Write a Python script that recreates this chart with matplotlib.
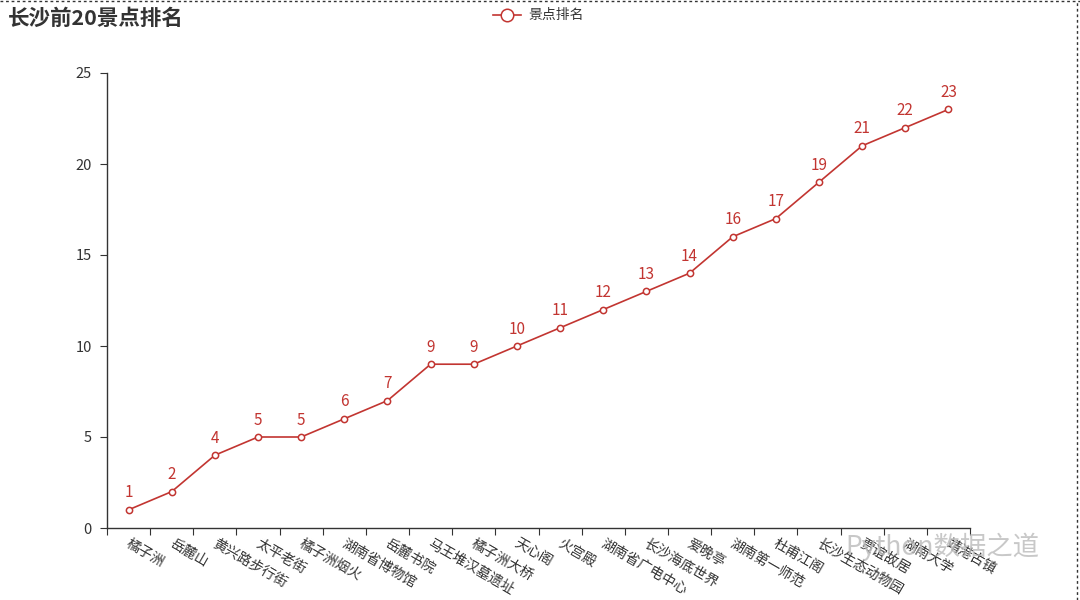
import matplotlib
matplotlib.use("Agg")
import matplotlib.pyplot as plt
from matplotlib.lines import Line2D

plt.rcParams['font.family'] = ['Noto Sans CJK SC', 'DejaVu Sans']

categories = ["橘子洲", "岳麓山", "黄兴路步行街", "太平老街", "橘子洲烟火", "湖南省博物馆",
              "岳麓书院", "马王堆汉墓遗址", "橘子洲大桥", "天心阁", "火宫殿", "湖南省广电中心",
              "长沙海底世界", "爱晚亭", "湖南第一师范", "杜甫江阁", "长沙生态动物园", "贾谊故居",
              "湖南大学", "靖港古镇"]
values = [1, 2, 4, 5, 5, 6, 7, 9, 9, 10, 11, 12, 13, 14, 16, 17, 19, 21, 22, 23]
y_ticks = [0, 5, 10, 15, 20, 25]

red = "#c23531"
axc = "#333333"

fig = plt.figure(figsize=(10.8, 6), dpi=100)
ax = fig.add_axes([107/1080, 1-528/600, (970-107)/1080, (528-73)/600])

n = len(categories)
x = list(range(n))
ax.plot(x, values, color=red, lw=1.2, marker='o', markersize=4.5,
        markerfacecolor='white', markeredgecolor=red, markeredgewidth=1.1, zorder=3, clip_on=False)
for xi, v in zip(x, values):
    ax.annotate(str(v), (xi, v), xytext=(0, 6), textcoords='offset points',
                ha='center', va='bottom', color=red, fontsize=11)

ax.set_xlim(-0.5, n - 0.5)
ax.set_ylim(0, 25)
ax.set_yticks(y_ticks)
ax.set_yticklabels([str(t) for t in y_ticks], color=axc, fontsize=10.5)
ax.tick_params(axis='y', length=5, color=axc, pad=6)

ax.set_xticks([i - 0.5 for i in range(n + 1)])
ax.set_xticklabels([])
ax.tick_params(axis='x', length=5, color=axc)
for xi, lab in zip(x, categories):
    ax.text(xi + 0.05, -0.45, lab, rotation=-30, rotation_mode='anchor', ha='left', va='top',
            fontsize=10, color=axc, transform=ax.transData, clip_on=False)

for s in ['top', 'right']:
    ax.spines[s].set_visible(False)
for s in ['left', 'bottom']:
    ax.spines[s].set_color(axc)
    ax.spines[s].set_linewidth(1)

fig.text(8/1080, 1-18/600, "长沙前20景点排名", fontsize=15.5, fontweight='bold',
         color=axc, ha='left', va='center')

# legend
ly = 1 - 15/600
fig.add_artist(Line2D([493/1080, 521/1080], [ly, ly], color=red, lw=1.2,
                      transform=fig.transFigure))
fig.add_artist(Line2D([507/1080], [ly], marker='o', markersize=9, markerfacecolor='white',
                      markeredgecolor=red, markeredgewidth=1.1, transform=fig.transFigure))
fig.text(528/1080, ly, "景点排名", fontsize=10, color=axc, ha='left', va='center')

# watermark
fig.text(845/1080, 1-547/600, "Python数据之道", fontsize=19, color='#bbbbbb', alpha=0.8,
         ha='left', va='center', zorder=10)

# dashed frame (top and right)
fig.add_artist(Line2D([0, 1], [0.999, 0.999], color='#333333', lw=1, ls=(0, (2, 2)),
                      transform=fig.transFigure))
fig.add_artist(Line2D([1077/1080, 1077/1080], [0, 1], color='#333333', lw=1, ls=(0, (2, 2)),
                      transform=fig.transFigure))

fig.savefig("out.png", dpi=100)
